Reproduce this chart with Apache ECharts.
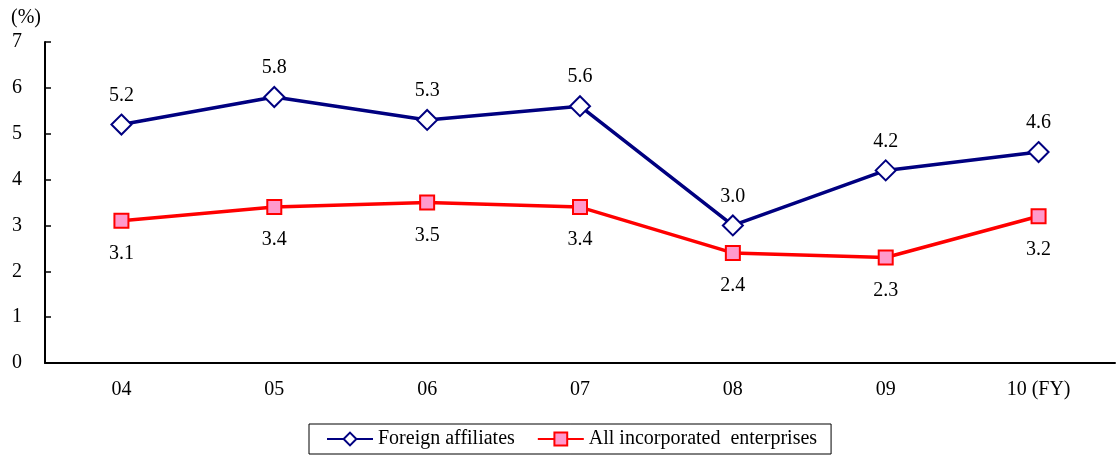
<!DOCTYPE html>
<html>
<head>
<meta charset="utf-8">
<script src="https://cdn.jsdelivr.net/npm/echarts@6/dist/echarts.min.js"></script>
<style>
  html, body { margin: 0; padding: 0; background: #fff; }
  #chart { width: 1116px; height: 455px; }
</style>
</head>
<body>
<div id="chart"></div>
<script>
// Fiscal years on the category axis
const years = ['04', '05', '06', '07', '08', '09', '10 (FY)'];
// Ordinary profit ratio (%)
const foreignAffiliates = [5.2, 5.8, 5.3, 5.6, 3.0, 4.2, 4.6];
const allEnterprises = [3.1, 3.4, 3.5, 3.4, 2.4, 2.3, 3.2];
const yTicks = [0, 1, 2, 3, 4, 5, 6, 7];

const FONT = '"Liberation Serif", "Times New Roman", serif';

const chart = echarts.init(document.getElementById('chart'), null, { renderer: 'canvas' });

chart.setOption({
  animation: false,
  backgroundColor: '#fff',
  textStyle: { fontFamily: FONT, color: '#000' },
  grid: { left: 45, right: 1, top: 42, bottom: 92 },
  graphic: [{
    type: 'text', left: 11, top: 8,
    style: { text: '(%)', font: '20px ' + FONT, fill: '#000' }
  }],
  legend: {
    bottom: 1,
    left: 309,
    padding: [5, 14, 5, 17],
    borderColor: '#000',
    borderWidth: 1,
    borderRadius: 0,
    itemWidth: 46,
    itemHeight: 16,
    itemGap: 22,
    textStyle: { fontFamily: FONT, fontSize: 20, color: '#000' },
    data: ['Foreign affiliates', 'All incorporated  enterprises']
  },
  xAxis: {
    type: 'category',
    data: years,
    boundaryGap: true,
    axisLine: { lineStyle: { color: '#000', width: 2 } },
    axisTick: { inside: true, length: 6, lineStyle: { color: '#000', width: 1.5 } },
    axisLabel: { fontFamily: FONT, fontSize: 20, color: '#000', margin: 17 }
  },
  yAxis: {
    type: 'value',
    min: yTicks[0],
    max: yTicks[yTicks.length - 1],
    interval: 1,
    splitLine: { show: false },
    axisLine: { show: true, lineStyle: { color: '#000', width: 2 } },
    axisTick: { show: true, inside: true, length: 6, lineStyle: { color: '#000', width: 1.5 } },
    axisLabel: { fontFamily: FONT, fontSize: 20, color: '#000', margin: 23 }
  },
  series: [
    {
      name: 'Foreign affiliates',
      type: 'line',
      data: foreignAffiliates,
      symbol: 'diamond',
      symbolSize: [20, 20],
      showAllSymbol: true,
      lineStyle: { color: '#000080', width: 3.5 },
      itemStyle: { color: '#fff', borderColor: '#000080', borderWidth: 2 },
      label: {
        show: true, position: 'top', distance: 8,
        formatter: p => p.value.toFixed(1),
        fontFamily: FONT, fontSize: 20, color: '#000'
      },
      z: 3
    },
    {
      name: 'All incorporated  enterprises',
      type: 'line',
      data: allEnterprises,
      symbol: 'rect',
      symbolSize: 14,
      showAllSymbol: true,
      lineStyle: { color: '#ff0000', width: 3.5 },
      itemStyle: { color: '#ff99cc', borderColor: '#ff0000', borderWidth: 2 },
      label: {
        show: true, position: 'bottom', distance: 15,
        formatter: p => p.value.toFixed(1),
        fontFamily: FONT, fontSize: 20, color: '#000'
      },
      z: 2
    }
  ]
});
</script>
</body>
</html>
